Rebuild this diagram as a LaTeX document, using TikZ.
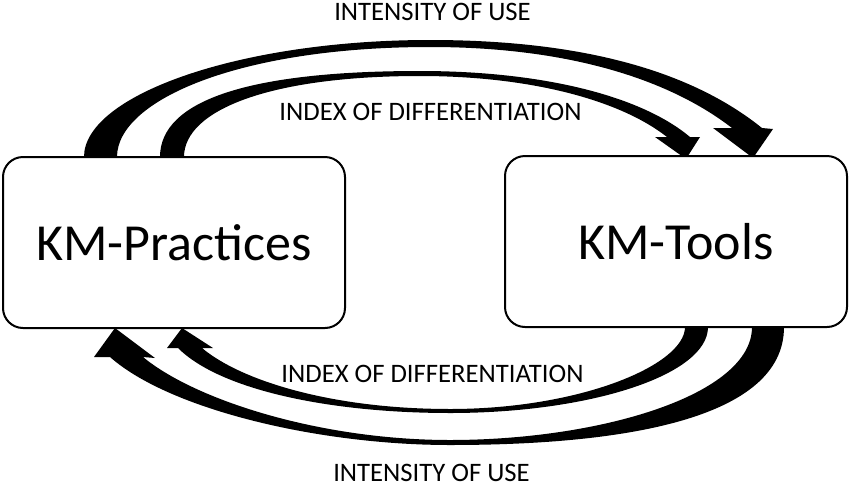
\documentclass[tikz,border=0pt]{standalone}
\usepackage{fontspec}
\setmainfont{Carlito}
\begin{document}
\begin{tikzpicture}[x=0.75pt,y=-0.75pt]
\useasboundingbox (0,0) rectangle (850,486);
\tikzset{
  box/.style={draw, line width=1.5pt, rounded corners=15pt, fill=white,
    minimum width=256.5pt, minimum height=128.25pt, inner sep=0pt,
    font=\fontsize{39}{47}\selectfont},
  lbl/.style={font=\fontsize{20}{24}\selectfont, anchor=base, inner sep=0pt},
  band/.style={fill=black}
}
% top outer arrow (intensity of use)
\fill[band] (84,157) .. controls (84,95) and (240,40) .. (430,40)
  .. controls (580,40) and (690,70) .. (762,128) -- (773,129) -- (753,158) -- (713,128) -- (732,128)
  .. controls (670,80) and (570,47) .. (430,47)
  .. controls (240,47) and (117,100) .. (117,157) -- cycle;
% top inner arrow (index of differentiation)
\fill[band] (160,157) .. controls (160,100) and (250,71) .. (420,71)
  .. controls (540,71) and (640,95) .. (690,137) -- (700,137) -- (686,159) -- (655,137) -- (667,137)
  .. controls (620,100) and (530,76) .. (420,76)
  .. controls (270,76) and (184,110) .. (184,157) -- cycle;
% bottom outer arrow
\fill[band] (784,327) .. controls (784,420) and (620,445) .. (450,445)
  .. controls (320,445) and (170,410) .. (110,357) -- (94,357) -- (115,328) -- (155,358) -- (143,357)
  .. controls (195,400) and (320,440) .. (450,440)
  .. controls (600,440) and (752,395) .. (752,327) -- cycle;
% bottom inner arrow
\fill[band] (708,327) .. controls (708,375) and (590,413) .. (450,413)
  .. controls (330,413) and (220,390) .. (178,348) -- (167,348) -- (182,328) -- (213,348) -- (202,348)
  .. controls (240,380) and (330,409) .. (450,409)
  .. controls (580,409) and (685,365) .. (685,327) -- cycle;
% boxes
\node[box] (P) at (174,242.5) {KM-Practices};
\node[box] (T) at (676,241.5) {KM-Tools};
% labels
\node[lbl] (t1) at (432.5,20) {INTENSITY OF USE};
\node[lbl] (t2) at (430.5,120) {INDEX OF DIFFERENTIATION};
\node[lbl] (t3) at (432.5,382) {INDEX OF DIFFERENTIATION};
\node[lbl] (t4) at (431.5,481) {INTENSITY OF USE};
\end{tikzpicture}
\end{document}
